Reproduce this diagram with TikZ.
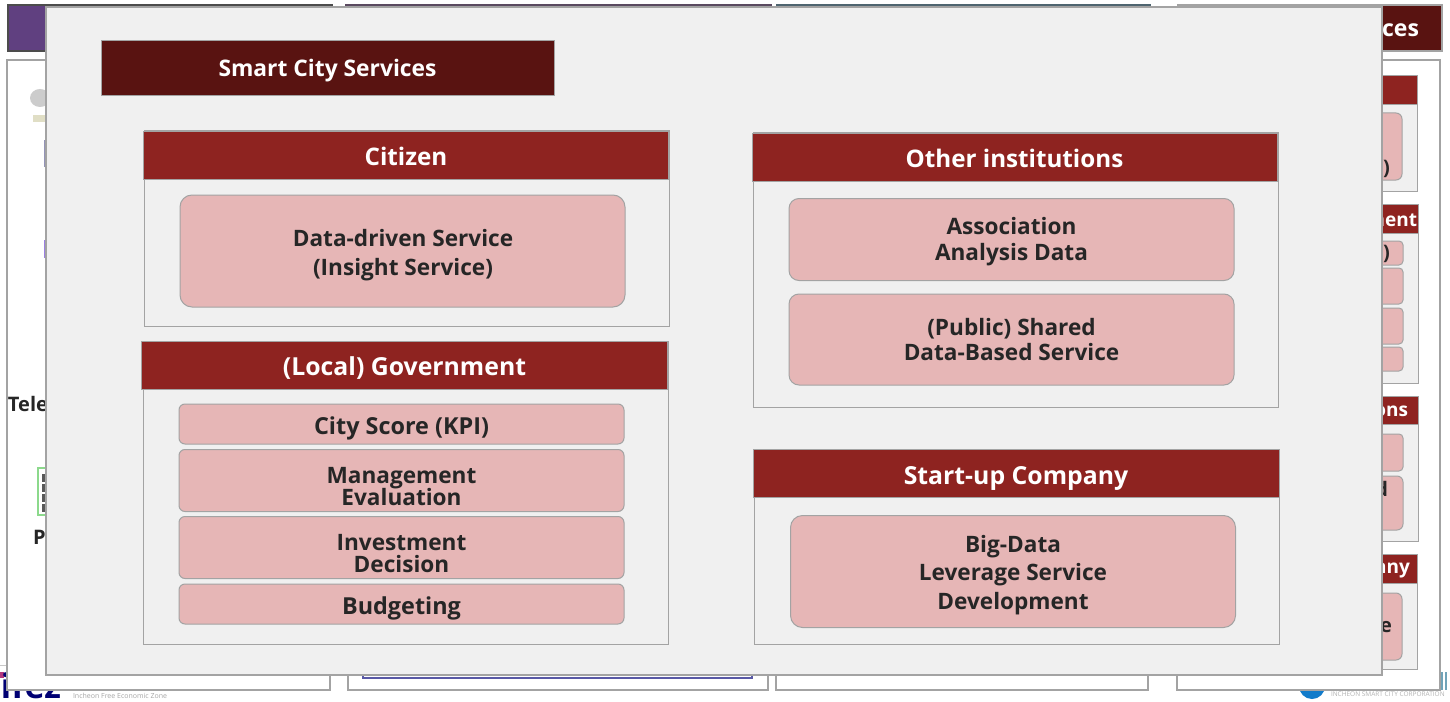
\documentclass[tikz,border=0pt]{standalone}
\usepackage{fontspec}
\setmainfont{Open Sans}
\definecolor{panelbg}{HTML}{F0F0F0}
\definecolor{headred}{HTML}{8E2320}
\definecolor{darkred}{HTML}{591311}
\definecolor{pinkbox}{HTML}{E6B6B6}
\definecolor{edgegray}{HTML}{A3A3A3}
\definecolor{txtdark}{HTML}{262626}
\definecolor{purplehead}{HTML}{604080}
\definecolor{stripa}{HTML}{5A4A60}
\definecolor{stripb}{HTML}{4F6570}
\lineskiplimit=-20pt
\tikzset{
  x=0.5pt,y=-0.5pt,
  every node/.style={inner sep=0pt,outer sep=0pt,font=\bfseries},
  backpanel/.style={draw=edgegray,fill=white,line width=0.6pt},
  grouppanel/.style={draw=edgegray,fill=panelbg,line width=0.5pt},
  headbar/.style={draw=edgegray,fill=headred,line width=0.5pt},
  pinkcard/.style={draw=edgegray,fill=pinkbox,line width=0.5pt,rounded corners=#1},
  pinkcard/.default=4pt,
  headtext/.style={text=white,font=\bfseries\fontsize{12.1}{15}\selectfont},
  headwide/.style={text=white,font=\bfseries\fontsize{12.4}{15}\selectfont},
  cardtext/.style={text=txtdark,align=center,font=\bfseries\fontsize{11.3}{14.2}\selectfont},
  cardwide/.style={text=txtdark,align=center,font=\bfseries\fontsize{11.7}{14.2}\selectfont},
  tightcard/.style={text=txtdark,align=center,font=\bfseries\fontsize{11.3}{11}\selectfont},
  midcard/.style={text=txtdark,align=center,font=\bfseries\fontsize{11.3}{12.7}\selectfont},
  backtext/.style={text=txtdark,font=\bfseries\fontsize{10}{12}\selectfont},
  logotext/.style={text=blue!45!black,font=\bfseries\fontsize{17}{17}\selectfont},
  sliver/.style={text=white,font=\bfseries\fontsize{9.5}{12}\selectfont},
}
% #1 name, #2 cx, #3 cy, #4 width, #5 height, #6 radius
\newcommand{\cardbox}[6]{\node[draw=edgegray,fill=pinkbox,line width=0.5pt,rounded corners=#6,minimum width=#4,minimum height=#5] (#1) at (#2,#3) {};}
\newcommand{\headbox}[4]{\node[headbar,minimum width=#4,minimum height=24pt] (#1) at (#2,#3) {};}
\begin{document}
\begin{tikzpicture}
\useasboundingbox (0,0) rectangle (1450,701);
\fill[white] (0,0) rectangle (1450,701);
% background slide headers
\path[draw=black!70,fill=purplehead,line width=0.6pt] (8,5) rectangle (332,51);
\path[draw=stripa,fill=darkred,line width=0.6pt] (346,5) rectangle (771,51);
\path[draw=stripb,fill=darkred,line width=0.6pt] (777,5) rectangle (1150,51);
\path[draw=edgegray,fill=darkred,line width=0.6pt] (1178,5) rectangle (1442,51);
\node[anchor=east,text=white,font=\bfseries\fontsize{11.5}{14}\selectfont] (ces) at (1419,30) {ces};
% logos that the panels partly cover
\fill[magenta!70!black] (0,672) rectangle (4,678);
\draw[edgegray!60,line width=0.4pt] (0,665) -- (7,665);
\node[logotext,anchor=base west] (iicez) at (1,698) {ifez};
\fill[cyan!60!blue] (1312,686) circle[radius=13];
\fill[cyan!40!gray] (1441,672) rectangle (1443,690);
\fill[cyan!40!gray] (1445,672) rectangle (1447,690);
% background panels
\path[backpanel] (7,60) rectangle (330,690);
\path[backpanel] (348,60) rectangle (768,690);
\path[backpanel] (776,60) rectangle (1148,690);
\path[backpanel] (1177,60) rectangle (1440,690);
\node[anchor=west,text=gray!70,font=\fontsize{3.5}{5}\selectfont] (ifez) at (73,695.5) {Incheon Free Economic Zone};
\node[anchor=west,text=gray!60,font=\fontsize{3.25}{5}\selectfont] (isc) at (1331,694.5) {INCHEON SMART CITY CORPORATION};
% background fragments
\fill[gray!40] (40,98) ellipse[x radius=10,y radius=9];
\fill[yellow!30!gray!40] (33,115) rectangle (46,122);
\fill[blue!20!gray!70] (44,140) rectangle (46,167);
\fill[purple!30!blue!50] (44,240) rectangle (46,258);
\path[draw=green!50!gray!60,fill=white,line width=0.7pt] (38,468) rectangle (50,515);
\foreach \yy in {474,484,494,504} \fill[gray!70!black] (42,\yy) rectangle (46,\yy+8);
\path[draw=blue!30!gray,line width=0.6pt] (363,670) -- (363,678) -- (752,678) -- (752,670);
\fill[purple!25!blue!30!white] (226,670) arc[start angle=180,end angle=360,x radius=33,y radius=11] -- cycle;
\path[draw=gray!70,line width=0.8pt] (790,675.5) -- (962,675.5);
\node[backtext,anchor=west] (tele) at (8,404) {Tele};
\node[backtext,anchor=west] (pfrag) at (33,537) {P};
% right column
\path[grouppanel] (1190,76) rectangle (1417,191);
\path[headbar] (1190,76) rectangle (1417,105);
\path[pinkcard=3pt] (1300,113) rectangle (1402,180);
\node[backtext,anchor=east] (r1) at (1390,169) {)};
\path[grouppanel] (1190,204) rectangle (1418,383);
\path[headbar] (1190,204) rectangle (1418,233);
\node[sliver,anchor=east] (r2) at (1417,220) {ment};
\path[pinkcard=2pt] (1300,241) rectangle (1403,265);
\node[backtext,anchor=east] (r3) at (1390,254) {)};
\path[pinkcard=2pt] (1300,268) rectangle (1403,304);
\path[pinkcard=2pt] (1300,308) rectangle (1403,344);
\path[pinkcard=2pt] (1300,347) rectangle (1403,371);
\path[grouppanel] (1190,396) rectangle (1418,541);
\path[headbar] (1190,396) rectangle (1418,424);
\node[sliver,anchor=east] (r4) at (1408,411) {ons};
\path[pinkcard=2pt] (1300,434) rectangle (1403,471);
\path[pinkcard=3pt] (1300,476) rectangle (1403,530);
\node[backtext,anchor=east] (r5) at (1388,489) {d};
\path[grouppanel] (1190,554) rectangle (1417,669);
\path[headbar] (1190,554) rectangle (1417,583);
\node[sliver,anchor=east] (r6) at (1410,570) {any};
\path[pinkcard=3pt] (1300,593) rectangle (1402,660);
\node[backtext,anchor=east] (r7) at (1392,627) {e};
% overlay slide
\path[draw=edgegray,fill=panelbg,line width=0.7pt] (46,7) rectangle (1382,675);
\node[draw=edgegray,fill=darkred,line width=0.6pt,minimum width=226.5pt,minimum height=27.5pt] (title) at (328,68) {};
\node[text=white,font=\bfseries\fontsize{11.4}{14}\selectfont] (titlet) at (327.5,71) {Smart City Services};
% Citizen
\path[grouppanel] (144,131) rectangle (669,326);
\headbox{citizen}{406}{155.5}{262.5pt}
\node[headtext] (citizent) at (406,156) {Citizen};
\cardbox{c1}{402.5}{251}{222.5pt}{56pt}{6pt}
\node[cardtext] (c1t) at (403,255) {Data-driven Service\\(Insight Service)};
% Government
\path[grouppanel] (143,341) rectangle (668,644);
\headbox{gov}{404.5}{365}{263pt}
\node[headwide] (govt) at (404.5,368) {(Local) Government};
\cardbox{g1}{401.5}{424}{222.5pt}{20pt}{3pt}
\node[cardwide] (g1t) at (401.5,428) {City Score (KPI)};
\cardbox{g2}{401.5}{480.5}{222.5pt}{31pt}{3pt}
\node[tightcard] (g2t) at (401.5,487) {Management\\Evaluation};
\cardbox{g3}{401.5}{547.5}{222.5pt}{31pt}{3pt}
\node[tightcard] (g3t) at (401.5,553.5) {Investment\\Decision};
\cardbox{g4}{401.5}{604}{222.5pt}{20pt}{3pt}
\node[cardwide] (g4t) at (401.5,608) {Budgeting};
% Other institutions
\path[grouppanel] (753,133) rectangle (1278,407);
\headbox{other}{1015}{157.5}{262.5pt}
\node[headtext] (othert) at (1014.5,158) {Other institutions};
\cardbox{o1}{1011.5}{239.5}{222.5pt}{41pt}{5pt}
\node[midcard] (o1t) at (1011.5,241.5) {Association\\Analysis Data};
\cardbox{o2}{1011.5}{339.5}{222.5pt}{45.5pt}{5pt}
\node[midcard] (o2t) at (1011.5,339.5) {(Public) Shared\\Data-Based Service};
% Start-up
\path[grouppanel] (754,449) rectangle (1279,644);
\headbox{startup}{1016}{473.5}{263pt}
\node[headwide] (startupt) at (1016,478) {Start-up Company};
\cardbox{s1}{1013}{571.5}{222.5pt}{56pt}{6pt}
\node[cardtext] (s1t) at (1013,575) {Big-Data\\Leverage Service\\Development};
\end{tikzpicture}
\end{document}
